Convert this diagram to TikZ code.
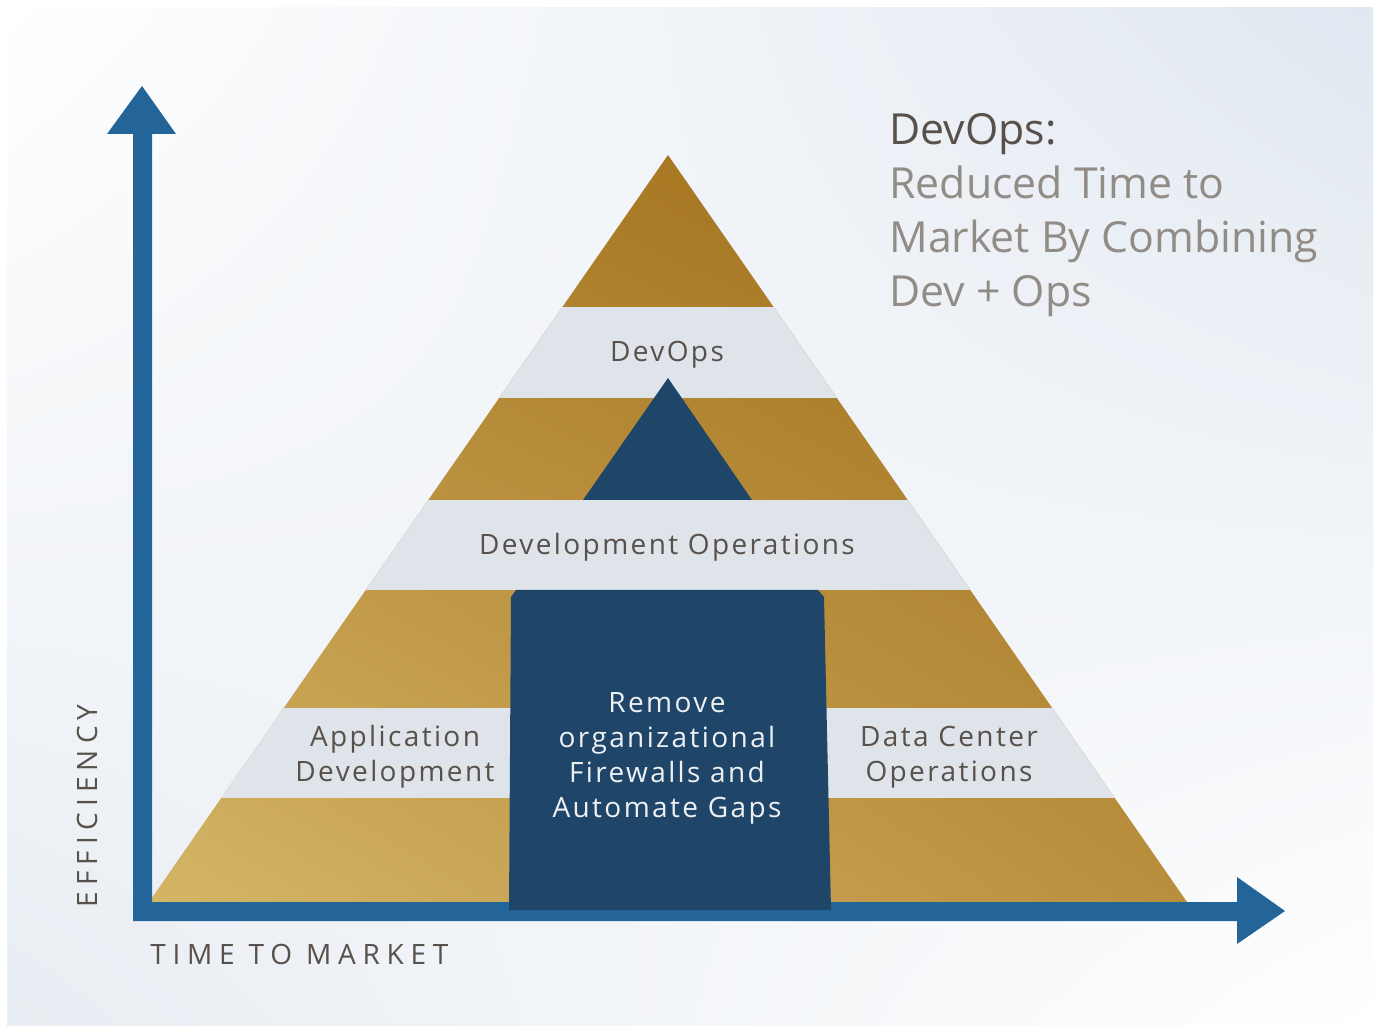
\documentclass[tikz,border=0pt]{standalone}
\usepackage{fontspec}
\usetikzlibrary{shadings}
\setmainfont{Open Sans}
\newfontfamily\lblfont[LetterSpace=8.5]{Open Sans}
\newfontfamily\axisfont[LetterSpace=24]{Open Sans}
\newfontfamily\effont[LetterSpace=22]{Open Sans}

\definecolor{bgblue}{HTML}{E1E8F1}
\definecolor{bgleft}{HTML}{E8EDF3}
\definecolor{goldUL}{HTML}{B3852F}
\definecolor{goldUR}{HTML}{9C6A16}
\definecolor{goldLL}{HTML}{D4B567}
\definecolor{goldLR}{HTML}{B98F3E}
\definecolor{bandgray}{HTML}{DFE4EA}
\definecolor{navy}{HTML}{1F4568}
\definecolor{axisblue}{HTML}{236598}
\definecolor{txtdark}{HTML}{58504A}
\definecolor{ttlgray}{HTML}{928C86}
\definecolor{txtlight}{HTML}{EEF1F4}

\tikzset{
  band/.style={fill=bandgray},
  layerlabel/.style={font=\lblfont\fontsize{14}{17.5}\selectfont, text=txtdark, inner sep=0pt, align=center},
  innerlabel/.style={font=\lblfont\fontsize{14}{17.5}\selectfont, text=txtlight, inner sep=0pt, align=center},
  axislabel/.style={text=txtdark, inner sep=0pt},
}

\begin{document}
\begin{tikzpicture}[x=0.5pt,y=-0.5pt]
\useasboundingbox (0,0) rectangle (1377,1026);
\fill[white] (0,0) rectangle (1377,1026);
% background panel
\shade[upper left=white, upper right=bgblue, lower left=bgleft, lower right=white]
  (7,8) rectangle (1373,1026);

% pyramid body
\shade[upper left=goldUL, upper right=goldUR, lower left=goldLL, lower right=goldLR]
  (668,155) -- (1187,902) -- (149,902) -- cycle;
\begin{scope}
  \clip (668,155) -- (1187,902) -- (149,902) -- cycle;
  \fill[band] (0,307) rectangle (1377,398);
  \fill[band] (0,500) rectangle (1377,590);
  \fill[band] (0,708) rectangle (1377,798);
\end{scope}

% inner peak
\fill[navy] (668,378) -- (752,500) -- (583,500) -- cycle;

% axes
\fill[axisblue] (133,921) -- (133,134) -- (107,134) -- (142,86) -- (176,134) -- (152,134)
  -- (152,902) -- (1237,902) -- (1237,877) -- (1285,911) -- (1237,944) -- (1237,921) -- cycle;

% central column
\fill[navy] (511,597) -- (516,590) -- (818,590) -- (824,597) -- (831,910) -- (509,910) -- cycle;

% layer labels
\node[layerlabel, anchor=base] (devops) at (667,362) {DevOps};
\node[layerlabel, anchor=base] (devopsfull) at (667,555) {Development Operations};
\node[layerlabel] (appdev) at (395,757) {Application\\Development};
\node[layerlabel] (dcops) at (949,757) {Data Center\\Operations};
\node[innerlabel] (remove) at (667,758) {Remove\\organizational\\Firewalls and\\Automate Gaps};

% axis labels
\node[axislabel, font=\axisfont\fontsize{14}{17}\selectfont, anchor=base west] (xlabel) at (150,964) {TIME TO MARKET};
\node[axislabel, font=\effont\fontsize{14}{17}\selectfont, anchor=base west, rotate=90] (ylabel) at (97,908) {EFFICIENCY};

% headline
\node[anchor=north west, inner sep=0pt, align=left, text=ttlgray,
      font=\fontsize{21.4}{27}\selectfont] (title) at (889,113)
  {\textcolor{txtdark}{DevOps:}\\Reduced Time to\\Market By Combining\\Dev + Ops};
\end{tikzpicture}
\end{document}
